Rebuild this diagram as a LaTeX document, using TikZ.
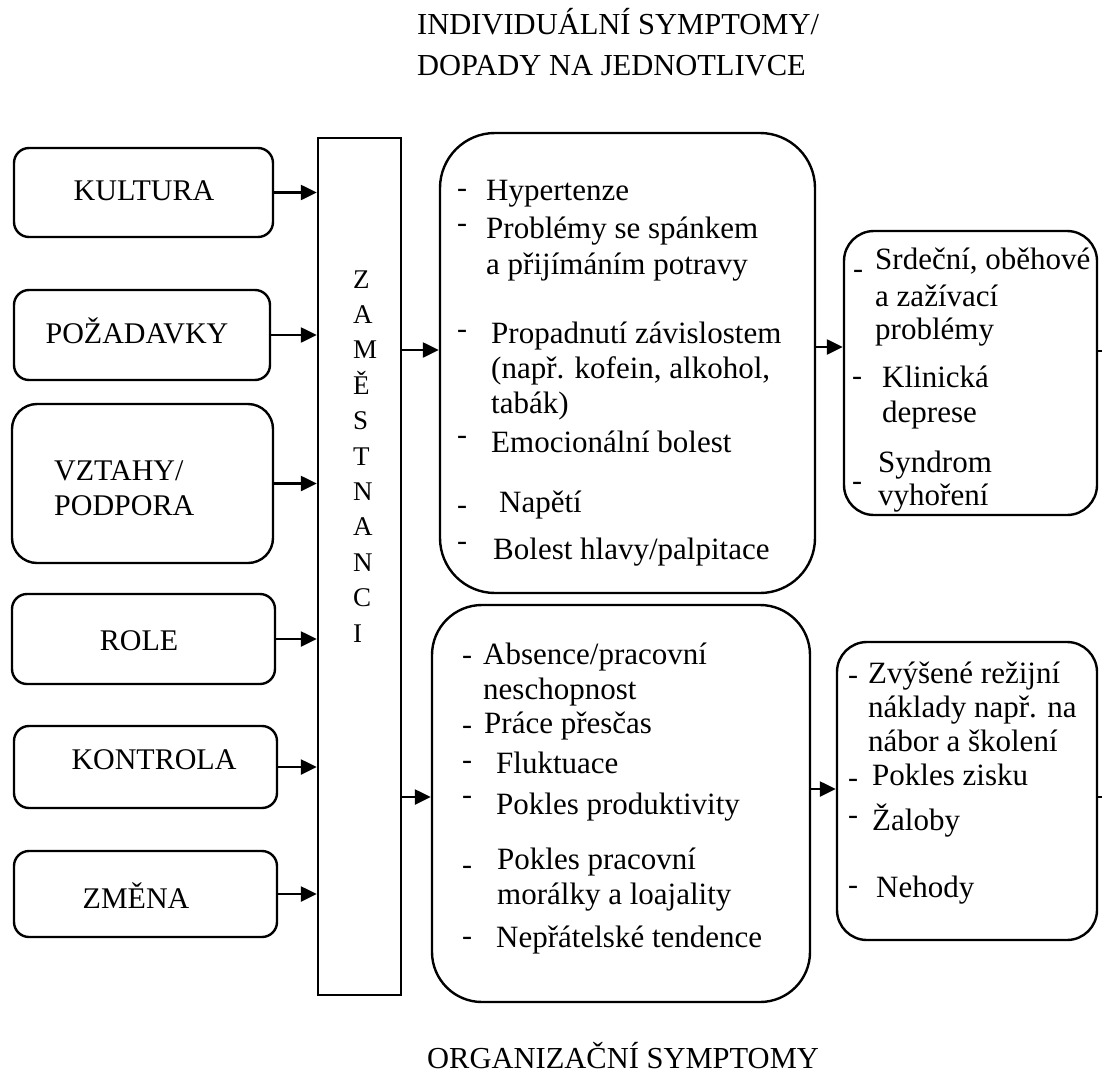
\documentclass[tikz,border=0pt]{standalone}
\usepackage{fontspec}
\setmainfont{Liberation Serif}
\usetikzlibrary{arrows.meta}
\tikzset{
  box/.style={draw, line width=2.4pt, rounded corners=15pt, inner sep=0pt},
  arr/.style={line width=2.4pt, -{Triangle[length=16pt,width=15pt]}},
  txt/.style={inner sep=0pt, anchor=base west, font=\fontsize{31}{35}\selectfont},
  ltxt/.style={inner sep=0pt, anchor=base west, font=\fontsize{30}{35}\selectfont},
  ttxt/.style={inner sep=0pt, anchor=base west, font=\fontsize{30.5}{35}\selectfont},
  ctxt/.style={inner sep=0pt, anchor=base, font=\fontsize{30}{35}\selectfont},
  dsh/.style={inner sep=0pt, anchor=base, font=\fontsize{30}{35}\selectfont},
  ztxt/.style={inner sep=0pt, anchor=base west, font=\fontsize{27}{30}\selectfont},
}
\newcommand{\dashat}[3]{\node[dsh] (#1) at (#2,#3+7) {-};}
\begin{document}
\begin{tikzpicture}[x=1pt,y=-1pt]
\useasboundingbox (0,0) rectangle (1102,1073);
% titles
\node[ttxt] (tt1) at (417,35) {INDIVIDUÁLNÍ SYMPTOMY/};
\node[ttxt] (tt2) at (417,75) {DOPADY NA JEDNOTLIVCE};
\node[ttxt] (tt3) at (427,1068) {ORGANIZAČNÍ SYMPTOMY};
% left boxes
\node[box, minimum width=259pt, minimum height=89pt] (kul) at (143.5,192.5) {};
\node[box, minimum width=256pt, minimum height=90pt] (poz) at (142,335) {};
\node[box, minimum width=261pt, minimum height=159pt, rounded corners=25pt] (vzt) at (142.5,483.5) {};
\node[box, minimum width=263pt, minimum height=90pt] (rol) at (143.5,639) {};
\node[box, minimum width=263pt, minimum height=82pt] (kon) at (145.5,767) {};
\node[box, minimum width=263pt, minimum height=86pt] (zme) at (145.5,894) {};
\node[ctxt] (lkul) at (144,200) {KULTURA};
\node[ctxt] (lpoz) at (137,343) {POŽADAVKY};
\node[ltxt] (lvz1) at (54,480) {VZTAHY/};
\node[ltxt] (lvz2) at (54,515) {PODPORA};
\node[ctxt] (lrol) at (139,650) {ROLE};
\node[ctxt] (lkon) at (154,769) {KONTROLA};
\node[ctxt] (lzme) at (136,908) {ZMĚNA};
% central column
\node[box, rounded corners=0pt, minimum width=83pt, minimum height=857pt] (zam) at (359.5,566.5) {};
\foreach \l [count=\i from 0] in {Z,A,M,Ě,S,T,N,A,N,C,I}
  \node[ztxt] (z\i) at (353,288+35.4*\i) {\l};
% middle boxes
\node[box, rounded corners=55pt, minimum width=375pt, minimum height=460pt] (ind) at (627.5,363) {};
\node[box, rounded corners=50pt, minimum width=378pt, minimum height=397pt] (org) at (621,803.5) {};
% right boxes
\node[box, rounded corners=30pt, minimum width=253pt, minimum height=284pt] (rup) at (970.5,373) {};
\node[box, rounded corners=30pt, minimum width=260pt, minimum height=298pt] (rlo) at (967,791) {};
% arrows left -> column
\foreach \b in {kul,poz,vzt,rol,kon,zme}
  \draw[arr] (\b.east) -- (\b.east -| zam.west);
% arrow helper coordinates
\coordinate (c1) at (0,350);
\coordinate (c2) at (0,797);
\coordinate (c3) at (0,347);
\coordinate (c4) at (0,789);
\coordinate (c5) at (0,351);
\coordinate (c6) at (0,797);
\coordinate (ex) at (1102,0);
\draw[arr] (zam.east |- c1) -- (ind.west |- c1);
\draw[arr] (zam.east |- c2) -- (org.west |- c2);
\draw[arr] (ind.east |- c3) -- (rup.west |- c3);
\draw[arr] (org.east |- c4) -- (rlo.west |- c4);
\draw[line width=2.4pt] (rup.east |- c5) -- (ex |- c5);
\draw[line width=2.4pt] (rlo.east |- c6) -- (ex |- c6);
% upper middle text
\dashat{du1}{462}{190}
\dashat{du2}{462}{225}
\dashat{du3}{462}{331}
\dashat{du4}{462}{437}
\dashat{du5}{462}{507}
\dashat{du6}{462}{543}
\node[txt] (u1) at (486,200) {Hypertenze};
\node[txt] (u2) at (486,238) {Problémy se spánkem};
\node[txt] (u3) at (486,274) {a přijímáním potravy};
\node[txt] (u4) at (491,343) {Propadnutí závislostem};
\node[txt] (u5) at (491,378) {(např. kofein, alkohol,};
\node[txt] (u6) at (491,413) {tabák)};
\node[txt] (u7) at (491,452) {Emocionální bolest};
\node[txt] (u8) at (499,512) {Napětí};
\node[txt] (u9) at (493,559) {Bolest hlavy/palpitace};
% lower middle text
\dashat{dl1}{467}{657}
\dashat{dl2}{467}{727}
\dashat{dl3}{467}{762}
\dashat{dl4}{467}{797}
\dashat{dl5}{467}{867}
\dashat{dl6}{467}{938}
\node[txt] (o1) at (483,664) {Absence/pracovní};
\node[txt] (o2) at (483,699) {neschopnost};
\node[txt] (o3) at (484,733) {Práce přesčas};
\node[txt] (o4) at (496,773) {Fluktuace};
\node[txt] (o5) at (496,814) {Pokles produktivity};
\node[txt] (o6) at (497,869) {Pokles pracovní};
\node[txt] (o7) at (497,904) {morálky a loajality};
\node[txt] (o8) at (496,947) {Nepřátelské tendence};
% right upper text
\dashat{dr1}{858}{271}
\dashat{dr2}{857}{378}
\dashat{dr3}{857}{483}
\node[txt] (r1) at (875,269) {Srdeční, oběhové};
\node[txt] (r2) at (875,306) {a zažívací};
\node[txt] (r3) at (875,339) {problémy};
\node[txt] (r4) at (882,387) {Klinická};
\node[txt] (r5) at (882,422) {deprese};
\node[txt] (r6) at (878,472) {Syndrom};
\node[txt] (r7) at (878,505) {vyhoření};
% right lower text
\dashat{ds1}{853}{677}
\dashat{ds2}{853}{780}
\dashat{ds3}{853}{817}
\dashat{ds4}{853}{887}
\node[txt] (s1) at (868,683) {Zvýšené režijní};
\node[txt] (s2) at (868,717) {náklady např. na};
\node[txt] (s3) at (868,751) {nábor a školení};
\node[txt] (s4) at (872,785) {Pokles zisku};
\node[txt] (s5) at (872,830) {Žaloby};
\node[txt] (s6) at (876,897) {Nehody};
\end{tikzpicture}
\end{document}
